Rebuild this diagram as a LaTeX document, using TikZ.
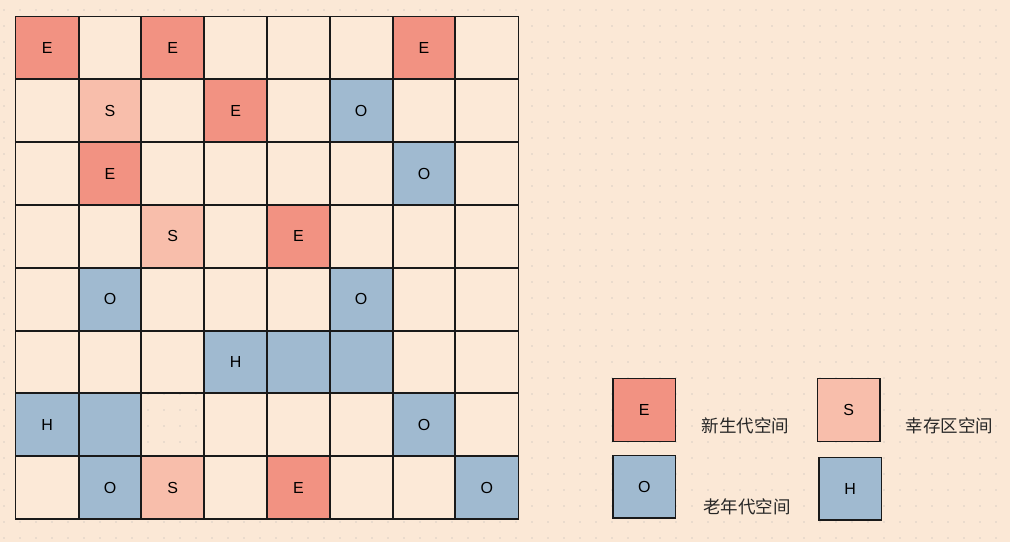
\documentclass[tikz,border=0pt]{standalone}
\usepackage{fontspec}
\setmainfont{Liberation Sans}
\newfontfamily\cjk{Noto Sans CJK SC}
\definecolor{pagebg}{HTML}{FBE8D6}
\definecolor{cellbg}{HTML}{FCE9D7}
\definecolor{dotgray}{HTML}{D9CFC4}
\definecolor{edenred}{HTML}{F29282}
\definecolor{survpink}{HTML}{F8BEAB}
\definecolor{oldblue}{HTML}{A0BAD0}
\begin{document}
\begin{tikzpicture}[x=1pt,y=-1pt,
    cell/.style={minimum size=62.8pt, inner sep=0pt, font=\fontsize{16}{16}\selectfont},
    frame/.style={draw=black!90, line width=1.5pt},
    eden/.style={cell, fill=edenred},
    surv/.style={cell, fill=survpink},
    old/.style={cell, fill=oldblue},
    legtext/.style={font=\cjk\fontsize{17.5}{17.5}\selectfont, text=black!85, inner sep=0pt}]
    % background with dots
    \fill[pagebg] (0,0) rectangle (1010,542);
    \useasboundingbox (0,0) rectangle (1010,542);
    \foreach \x in {4,20,...,1010}
        \foreach \y in {10,26,...,542}
            \fill[dotgray] (\x,\y) circle (0.8);

    % the 8x8 grid
    \foreach \r in {0,...,7}
        \foreach \c in {0,...,7} {
            \edef\cfill{\ifnum\r\c=62 none\else cellbg\fi}
            \node[cell, fill=\cfill] (c\r\c) at (15.8+31.4+62.8*\c, 16.6+31.4+62.8*\r) {};
        }

    % regions
    \foreach \r/\c/\s/\t in {0/0/eden/E, 0/2/eden/E, 0/6/eden/E,
                             1/1/surv/S, 1/3/eden/E, 1/5/old/O,
                             2/1/eden/E, 2/6/old/O,
                             3/2/surv/S, 3/4/eden/E,
                             4/1/old/O, 4/5/old/O,
                             5/3/old/H, 5/4/old/, 5/5/old/,
                             6/0/old/H, 6/1/old/, 6/6/old/O,
                             7/1/old/O, 7/2/surv/S, 7/4/eden/E, 7/7/old/O}
        \node[\s] (k\r\c) at (c\r\c) {\t};

    % cell borders on top
    \foreach \r in {0,...,7}
        \foreach \c in {0,...,7}
            \draw[frame] (c\r\c.north west) rectangle (c\r\c.south east);

    % legend
    \node[eden, frame] (legE) at (644.3,410) {E};
    \node[surv, frame] (legS) at (848.7,410) {S};
    \node[old, frame] (legO) at (644.3,486.7) {O};
    \node[old, frame] (legH) at (850.2,488.7) {H};
    \node[legtext] (txtE) at (745.5,426) {新生代空间};
    \node[legtext] (txtS) at (949.5,426) {幸存区空间};
    \node[legtext] (txtO) at (747,506.5) {老年代空间};
\end{tikzpicture}
\end{document}
